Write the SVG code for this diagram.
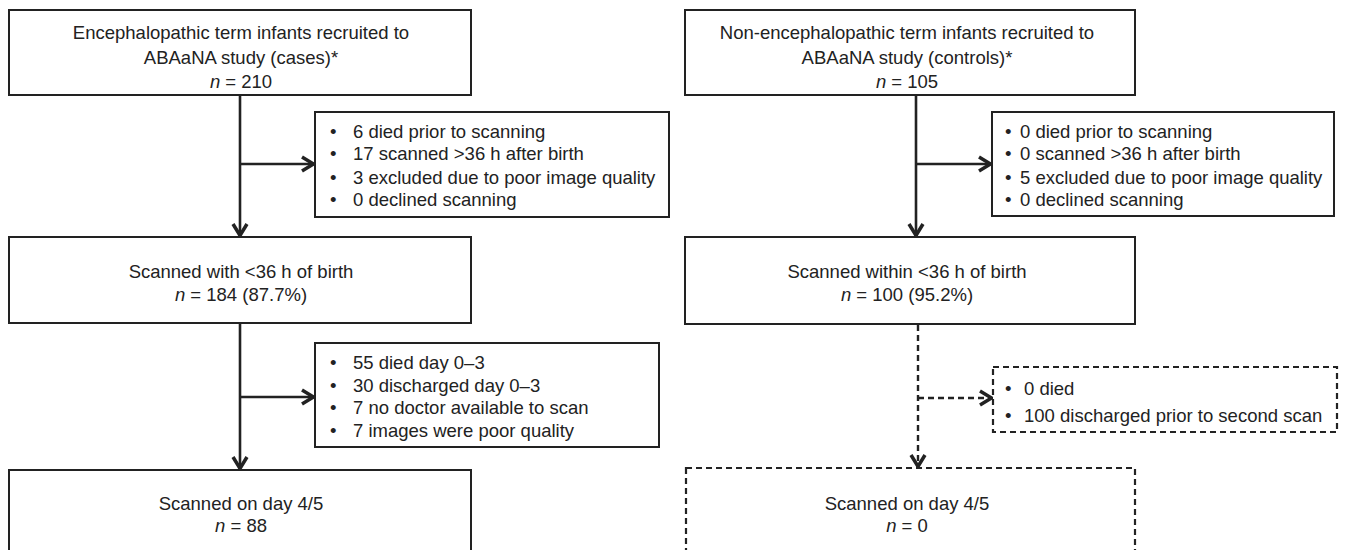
<svg xmlns="http://www.w3.org/2000/svg" width="1351" height="550" viewBox="0 0 1351 550">
<style>
.box{fill:#fff;stroke:#222;stroke-width:2}
.dbox{fill:#fff;stroke:#222;stroke-width:2.2;stroke-dasharray:6 4}
.t{font-family:"Liberation Sans",Arial,sans-serif;font-size:18.5px;fill:#222}
.c{text-anchor:middle}
.ln{fill:none;stroke:#222;stroke-width:2.6}
.dln{fill:none;stroke:#222;stroke-width:2.4;stroke-dasharray:6 4}
</style>
<defs>
<marker id="ah" viewBox="0 0 16 18" refX="14" refY="9" markerWidth="16" markerHeight="18" markerUnits="userSpaceOnUse" orient="auto">
<path d="M2,2 L13.5,9 L2,16" fill="none" stroke="#222" stroke-width="3.5" stroke-linejoin="miter"/>
</marker>
</defs>
<rect width="1351" height="550" fill="#fff"/>
<g id="connectors">
<line class="ln" x1="240" y1="95" x2="240" y2="236" marker-end="url(#ah)"/>
<line class="ln" x1="240" y1="164" x2="314" y2="164" marker-end="url(#ah)"/>
<line class="ln" x1="240" y1="323" x2="240" y2="469" marker-end="url(#ah)"/>
<line class="ln" x1="240" y1="397" x2="314" y2="397" marker-end="url(#ah)"/>
<line class="ln" x1="916" y1="95" x2="916" y2="236" marker-end="url(#ah)"/>
<line class="ln" x1="916" y1="164" x2="991" y2="164" marker-end="url(#ah)"/>
<line class="dln" x1="918" y1="325" x2="918" y2="467" marker-end="url(#ah)"/>
<line class="dln" x1="918" y1="398" x2="992" y2="398" marker-end="url(#ah)"/>
</g>
<g id="cases-recruited">
<rect class="box" x="9" y="10" width="462" height="85"/>
<text class="t c" x="241" y="39">Encephalopathic term infants recruited to</text>
<text class="t c" x="241" y="64">ABAaNA study (cases)*</text>
<text class="t c" x="241" y="88"><tspan font-style="italic">n</tspan> = 210</text>
</g>
<g id="cases-excluded1">
<rect class="box" x="315" y="112" width="354" height="105"/>
<text class="t" x="330" y="138">•</text><text class="t" x="353" y="138">6 died prior to scanning</text>
<text class="t" x="330" y="160">•</text><text class="t" x="353" y="160">17 scanned &gt;36 h after birth</text>
<text class="t" x="330" y="184">•</text><text class="t" x="353" y="184">3 excluded due to poor image quality</text>
<text class="t" x="330" y="206">•</text><text class="t" x="353" y="206">0 declined scanning</text>
</g>
<g id="cases-scanned36">
<rect class="box" x="9" y="237" width="462" height="86"/>
<text class="t c" x="241" y="278">Scanned with &lt;36 h of birth</text>
<text class="t c" x="241" y="301"><tspan font-style="italic">n</tspan> = 184 (87.7%)</text>
</g>
<g id="cases-excluded2">
<rect class="box" x="315" y="343" width="344" height="104"/>
<text class="t" x="330" y="369">•</text><text class="t" x="353" y="369">55 died day 0–3</text>
<text class="t" x="330" y="392">•</text><text class="t" x="353" y="392">30 discharged day 0–3</text>
<text class="t" x="330" y="414">•</text><text class="t" x="353" y="414">7 no doctor available to scan</text>
<text class="t" x="330" y="437">•</text><text class="t" x="353" y="437">7 images were poor quality</text>
</g>
<g id="cases-day45">
<rect class="box" x="9" y="470" width="462" height="82"/>
<text class="t c" x="241" y="510">Scanned on day 4/5</text>
<text class="t c" x="241" y="532"><tspan font-style="italic">n</tspan> = 88</text>
</g>
<g id="controls-recruited">
<rect class="box" x="685" y="10" width="450" height="85"/>
<text class="t c" x="907" y="39">Non-encephalopathic term infants recruited to</text>
<text class="t c" x="907" y="64">ABAaNA study (controls)*</text>
<text class="t c" x="907" y="88"><tspan font-style="italic">n</tspan> = 105</text>
</g>
<g id="controls-excluded1">
<rect class="box" x="992" y="112" width="342" height="104"/>
<text class="t" x="1005" y="138">•</text><text class="t" x="1020" y="138">0 died prior to scanning</text>
<text class="t" x="1005" y="160">•</text><text class="t" x="1020" y="160">0 scanned &gt;36 h after birth</text>
<text class="t" x="1005" y="184">•</text><text class="t" x="1020" y="184">5 excluded due to poor image quality</text>
<text class="t" x="1005" y="206">•</text><text class="t" x="1020" y="206">0 declined scanning</text>
</g>
<g id="controls-scanned36">
<rect class="box" x="685" y="237" width="450" height="87"/>
<text class="t c" x="907" y="278">Scanned within &lt;36 h of birth</text>
<text class="t c" x="907" y="301"><tspan font-style="italic">n</tspan> = 100 (95.2%)</text>
</g>
<g id="controls-excluded2">
<rect class="dbox" x="993" y="367" width="344" height="65"/>
<text class="t" x="1005" y="395">•</text><text class="t" x="1024" y="395">0 died</text>
<text class="t" x="1005" y="422">•</text><text class="t" x="1024" y="422">100 discharged prior to second scan</text>
</g>
<g id="controls-day45">
<rect class="dbox" x="686" y="468" width="449" height="84"/>
<text class="t c" x="907" y="510">Scanned on day 4/5</text>
<text class="t c" x="907" y="532"><tspan font-style="italic">n</tspan> = 0</text>
</g>
</svg>
